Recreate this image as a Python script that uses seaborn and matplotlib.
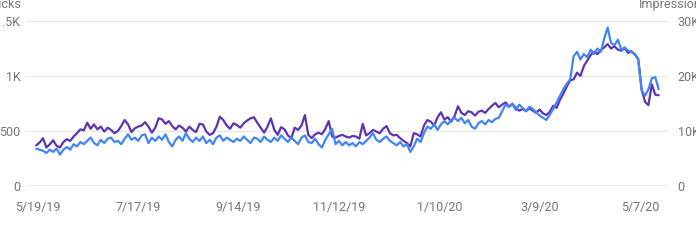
import numpy as np
import pandas as pd
import matplotlib
matplotlib.use("Agg")
import matplotlib.pyplot as plt
import seaborn as sns

start_date = "2019-05-18"
step_days = 2

clicks = [
    340, 330, 320, 300, 330, 310, 340, 285, 330, 355, 330, 380, 360, 400, 380, 410,
    440, 390, 370, 420, 390, 430, 440, 400, 410, 380, 430, 470, 420, 440, 410,
    460, 470, 390, 440, 410, 450, 420, 470, 400, 360, 420, 450, 410, 480, 430,
    400, 440, 410, 450, 390, 420, 380, 440, 460, 410, 440, 420, 400, 430,
    410, 450, 420, 390, 440, 430, 400, 450, 420, 400, 440, 410, 460, 430, 400,
    440, 410, 380, 440, 460, 400, 390, 430, 380, 350, 420, 470, 520, 380, 410,
    370, 400, 370, 390, 360, 400, 380, 410, 440, 480, 420, 400, 430, 450, 410,
    390, 370, 400, 360, 380, 310, 360, 430, 400, 480, 540, 520, 560, 510, 560,
    590, 560, 600, 620,
    590, 620, 570, 600, 540, 520, 570, 590, 560, 600, 580, 610, 620, 680, 740,
    720, 750, 690, 740, 710, 680, 720, 700, 670, 640, 620, 600, 650, 700, 760,
    820, 880, 930, 970, 1180, 1220, 1150, 1200, 1170, 1240, 1200, 1250, 1220,
    1340, 1440, 1300, 1280, 1330, 1240, 1260, 1230, 1220, 1200, 1150, 870, 820,
    880, 980, 990, 880,
]

impressions = [
    7400, 7900, 8700, 7000, 7600, 8300, 7300, 7000, 8000, 8500, 8200, 9000, 9600,
    10300, 10100, 11500, 10400, 11200, 10300, 10800, 9900, 10600, 10200, 9600,
    10000, 10900, 12000, 11200, 9800, 10500, 10800,
    11000, 11600, 10800, 9700, 10600, 12300, 12100, 11300, 11800, 10900, 10300,
    11000, 10600, 9900, 10800, 10200, 9800, 11300, 11200, 9900, 9300, 9600, 10800,
    12600, 12000, 11000, 10400, 11400, 11100,
    10600, 11400, 11900, 12300, 12500, 11500, 10600, 9700, 10800, 12300, 10200,
    9300, 10700, 10300, 9200, 8700, 10600, 10200, 11000, 12900, 9300, 8700, 9400,
    9700, 9400, 10400, 11800, 9000, 8800, 9100,
    9300, 9000, 8800, 9100, 9000, 8600, 11300, 9200, 9600, 10200, 9900, 9600,
    10400, 10900, 9600, 9200, 9300, 8700, 8200, 7800, 7200, 9600, 9400, 9000,
    11000, 12000, 11700, 11000, 12500, 13400, 12100, 12500, 11700, 12700,
    14500, 13300, 12900, 13600, 13400, 12800, 13500, 13700, 13300, 14000, 14600,
    15100, 14300, 14800, 15200, 14400, 14900, 14200, 13700, 14000, 13600, 14100,
    13700, 13300, 13900, 13200, 12900, 13500, 14600, 14200, 15700, 16800, 18100,
    19200, 19400, 20600, 20000, 21800, 22800, 23800, 24400, 24000, 24700, 25200,
    25800, 25000, 25400, 24800, 24600, 25100, 24200, 24500, 23900, 23100, 17500,
    15300, 14700, 18500, 16600, 16500,
]

x_tick_labels = ["5/19/19", "7/17/19", "9/14/19", "11/12/19", "1/10/20", "3/9/20", "5/7/20"]
clicks_ticks = [0, 500, 1000, 1500]
clicks_tick_labels = ["0", "500", "1K", "1.5K"]
impr_ticks = [0, 10000, 20000, 30000]
impr_tick_labels = ["0", "10K", "20K", "30K"]

dates = pd.date_range(start_date, periods=len(clicks), freq=f"{step_days}D")
df = pd.DataFrame({"date": dates, "clicks": clicks, "impressions": impressions})

# ---------------- figure ----------------
sns.set_theme(style="white")
plt.rcParams["font.family"] = ["Roboto", "DejaVu Sans"]

W, H = 696, 240
fig = plt.figure(figsize=(W / 100, H / 100), dpi=100)
ax_i = fig.add_axes([26 / W, 54 / H, 642 / W, 165 / H])   # impressions (right scale)
ax_c = ax_i.twinx()                                         # clicks (left scale)

purple = "#5E35B1"
blue = "#4285F4"
txt = "#757575"

sns.lineplot(data=df, x="date", y="impressions", ax=ax_i, color=purple, lw=1.6)
sns.lineplot(data=df, x="date", y="clicks", ax=ax_c, color=blue, lw=1.6)

# y axes
ax_i.set_ylim(0, 30000)
ax_i.set_yticks(impr_ticks)
ax_i.set_yticklabels(impr_tick_labels)
ax_i.yaxis.tick_right()
ax_c.set_ylim(0, 1500)
ax_c.set_yticks(clicks_ticks)
ax_c.set_yticklabels(clicks_tick_labels)
ax_c.yaxis.tick_left()

for a in (ax_i, ax_c):
    a.set_xlabel("")
    a.set_ylabel("")
    for s in a.spines.values():
        s.set_visible(False)

ax_i.tick_params(axis="y", length=0, pad=7, labelsize=9, labelcolor=txt)
ax_c.tick_params(axis="y", length=0, pad=4, labelsize=9, labelcolor=txt)

# x axis
tick_pos = pd.to_datetime(x_tick_labels, format="%m/%d/%y")
ax_i.set_xticks(tick_pos)
ax_i.set_xticklabels(x_tick_labels)
ax_i.set_xlim(tick_pos[0] - pd.Timedelta(days=7), tick_pos[-1] + pd.Timedelta(days=16.5))
ax_i.tick_params(axis="x", length=0, pad=11, labelsize=9, labelcolor=txt)
ax_c.tick_params(axis="x", length=0)

# grid
ax_i.grid(axis="y", color="#e6e6e6", lw=0.8)
ax_i.grid(axis="x", visible=False)
ax_c.grid(False)
ax_i.axhline(0, color="#9e9e9e", lw=1.0, zorder=1)

# axis titles at the top corners
fig.text(21 / W, 1 - 4.5 / H, "Clicks", ha="right", va="center", fontsize=9, color=txt)
fig.text(639 / W, 1 - 4.5 / H, "Impressions", ha="left", va="center", fontsize=9, color=txt)

fig.savefig("out.png", dpi=100)
